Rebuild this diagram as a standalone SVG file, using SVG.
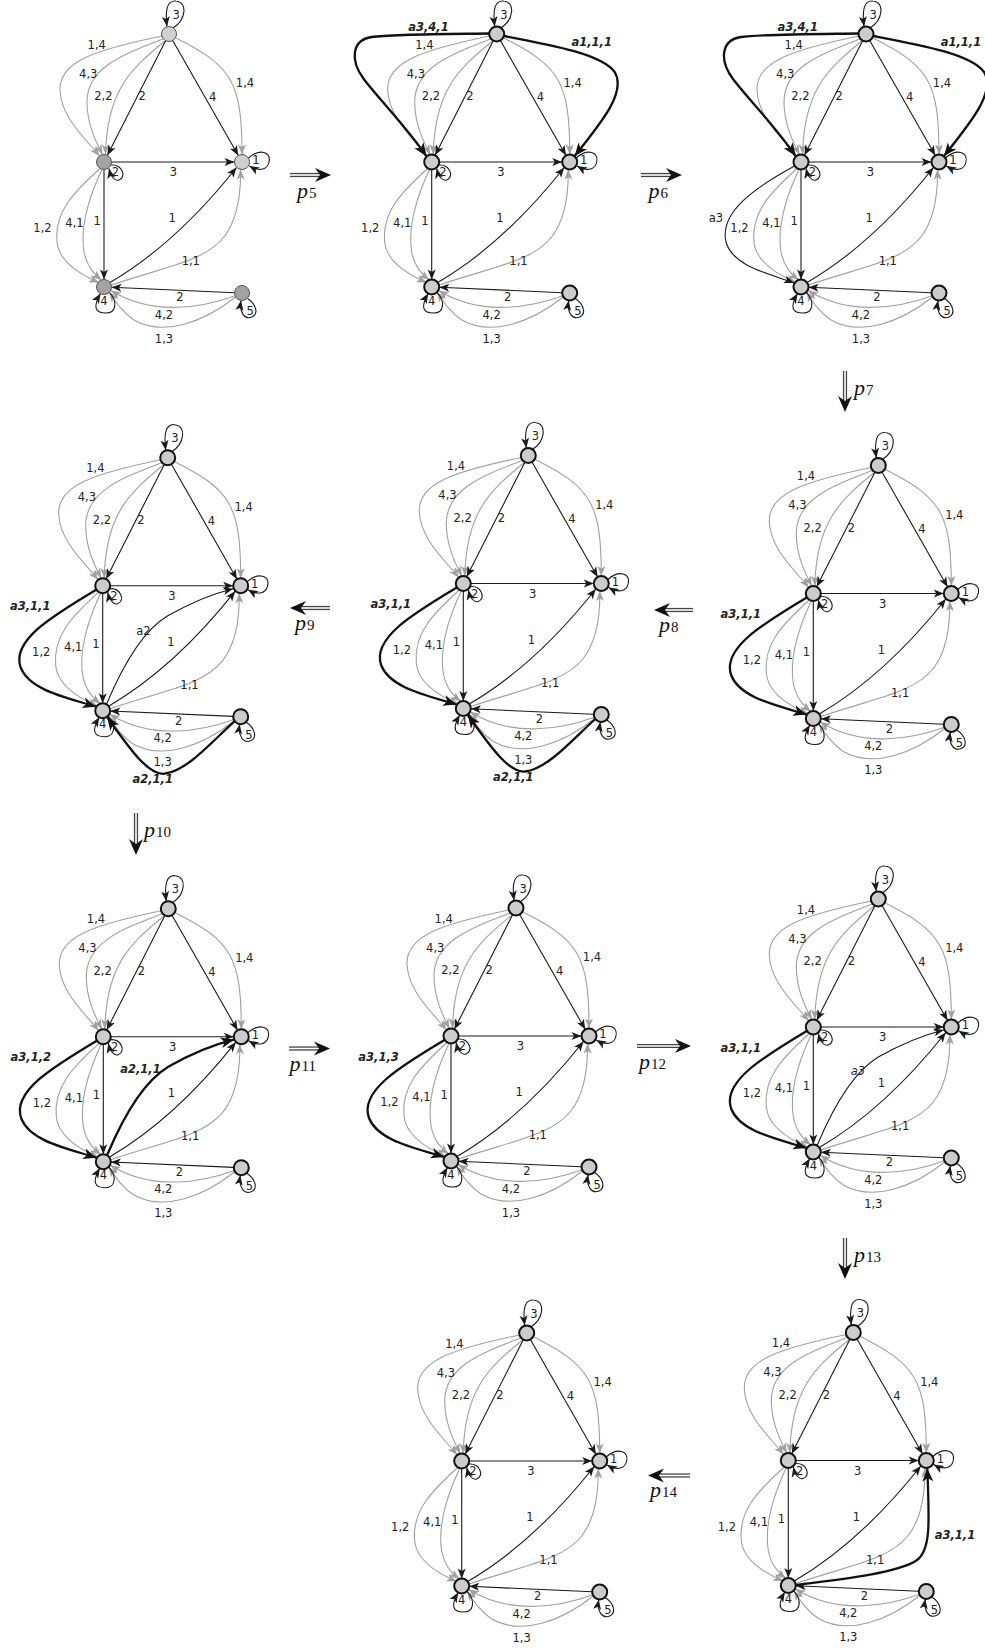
<svg xmlns="http://www.w3.org/2000/svg" width="985" height="1648" viewBox="0 0 985 1648">
<style>
.e{fill:none;stroke:#1a1a1a;stroke-width:1.1;marker-end:url(#ab)}
.g{fill:none;stroke:#a0a0a0;stroke-width:1.1;marker-end:url(#ag)}
.t{fill:none;stroke:#111;stroke-width:2.3;marker-end:url(#at)}
.l{font-family:"DejaVu Sans",sans-serif;font-size:11.5px;fill:#222;text-anchor:middle}
.bl{font-weight:bold;font-style:italic}
.it{font-style:italic}
.n{fill:#cccccc;stroke:#111;stroke-width:2}
.na{fill:#d0d0d0;stroke:#555;stroke-width:1}
.nb{fill:#a3a3a3;stroke:#555;stroke-width:1}
.dl{fill:none;stroke:#444;stroke-width:4.2}
.dli{fill:none;stroke:#fff;stroke-width:1.6}
.ah{fill:#111}
.pl{font-family:"Liberation Serif",serif;font-style:italic;font-size:22px;fill:#111}
.ps{font-style:normal;font-size:15px}
</style>
<defs>
<marker id="ab" viewBox="-11 -5 12 10" refX="0" refY="0" markerWidth="12" markerHeight="10" markerUnits="userSpaceOnUse" orient="auto"><path d="M0,0 L-10,-4 L-7.5,0 L-10,4 Z" fill="#1a1a1a"/></marker>
<marker id="ag" viewBox="-11 -5 12 10" refX="0" refY="0" markerWidth="12" markerHeight="10" markerUnits="userSpaceOnUse" orient="auto"><path d="M0,0 L-10,-4 L-7.5,0 L-10,4 Z" fill="#a0a0a0"/></marker>
<marker id="at" viewBox="-14 -6.5 15 13" refX="0" refY="0" markerWidth="15" markerHeight="13" markerUnits="userSpaceOnUse" orient="auto"><path d="M0,0 L-13,-5.5 L-9.5,0 L-13,5.5 Z" fill="#111"/></marker>
</defs>

<!-- Panel 1 -->
<g id="g1" transform="translate(104,162)">
<g id="g1-edges">
<path class="g" d="M72,-124 C128,-96 138,-80 138,-7.5"/>
<path class="g" d="M58,-126 C-10,-112 -45,-100 -44,-72 C-43,-45 -20,-25 -4.5,-6"/>
<path class="g" d="M59,-123 C20,-108 -17,-95 -17,-60 C-17,-38 -8,-20 -1.5,-7.4"/>
<path class="g" d="M61,-121 C25,-92 3,-70 1.5,-7.5"/>
<path class="g" d="M-4,6.5 C-30,30 -50,50 -47,80 C-45,100 -25,112 -5,120.5"/>
<path class="g" d="M-2,7.3 C-15,35 -24,65 -20,90 C-17,105 -10,112 -2.5,118"/>
<path class="g" d="M7.5,123 C60,105 100,100 120,75 C133,58 137,35 136.5,7.5"/>
<path class="g" d="M130.5,134 C100,145 50,155 7,128.5"/>
<path class="g" d="M131.5,135 C100,160 60,175 30,158 C18,150 12,140 5.5,130"/>
<path class="e" d="M61.6,-121.3 L3.4,-6.7"/>
<path class="e" d="M68.7,-121.5 L134.3,-6.5"/>
<path class="e" d="M7.5,0 L130.5,0"/>
<path class="e" d="M0,7.5 L0,117.5"/>
<path class="e" d="M6,120.5 Q72,82 132.5,5.5"/>
<path class="e" d="M130.5,130.7 L7.5,125.3"/>
<path class="e" d="M69,-134 C82,-142 84,-160 72,-161 C63,-162 61,-152 63,-135.5"/>
<path class="e" d="M144.5,-4 C156,-14 167,-10 165,0 C163,9 154,9 145.3,4"/>
<path class="e" d="M7,3 C18,2 23,15 15,18 C11,19.5 7,15 5,6.5"/>
<path class="e" d="M5.5,130.5 C14,140 12,151 2,151 C-8,151 -12,146 -3.5,131.5"/>
<path class="e" d="M143.5,136.5 C152,142 155,152 148,155 C141,158 135,151 137,138.5"/>
<text class="l" x="38.2" y="-61.7">2</text><text class="l" x="108.7" y="-60.7">4</text><text class="l" x="72.2" y="-143.3">3</text><text class="l" x="69.3" y="14.3">3</text><text class="l" x="-6.8" y="62.7">1</text><text class="l" x="68.2" y="60">1</text><text class="l" x="76" y="139.3">2</text><text class="l" x="152" y="2.3">1</text><text class="l" x="11.3" y="14">2</text><text class="l" x="0" y="142.7">4</text><text class="l" x="146.2" y="153.3">5</text><text class="l" x="141" y="-75">1,4</text><text class="l" x="-7.3" y="-113.3">1,4</text><text class="l" x="-15.8" y="-84.3">4,3</text><text class="l" x="-0.7" y="-61.7">2,2</text><text class="l" x="-61.5" y="70">1,2</text><text class="l" x="-29.5" y="65">4,1</text><text class="l" x="86.8" y="103.3">1,1</text><text class="l" x="60" y="156.7">4,2</text><text class="l" x="60" y="180.7">1,3</text>
</g>
<g id="g1-n3"><circle class="na" cx="65" cy="-128" r="7.5"/></g>
<g id="g1-n2"><circle class="nb" cx="0" cy="0" r="7.5"/></g>
<g id="g1-n1"><circle class="na" cx="138" cy="0" r="7.5"/></g>
<g id="g1-n4"><circle class="nb" cx="0" cy="125" r="7.5"/></g>
<g id="g1-n5"><circle class="nb" cx="138" cy="131" r="7.5"/></g>
</g>

<!-- Panel 2 -->
<g id="g2" transform="translate(431.7,162)">
<g id="g2-edges">
<path class="g" d="M72,-124 C128,-96 138,-80 138,-7.5"/>
<path class="g" d="M58,-126 C-10,-112 -45,-100 -44,-72 C-43,-45 -20,-25 -4.5,-6"/>
<path class="g" d="M59,-123 C20,-108 -17,-95 -17,-60 C-17,-38 -8,-20 -1.5,-7.4"/>
<path class="g" d="M61,-121 C25,-92 3,-70 1.5,-7.5"/>
<path class="g" d="M-4,6.5 C-30,30 -50,50 -47,80 C-45,100 -25,112 -5,120.5"/>
<path class="g" d="M-2,7.3 C-15,35 -24,65 -20,90 C-17,105 -10,112 -2.5,118"/>
<path class="g" d="M7.5,123 C60,105 100,100 120,75 C133,58 137,35 136.5,7.5"/>
<path class="g" d="M130.5,134 C100,145 50,155 7,128.5"/>
<path class="g" d="M131.5,135 C100,160 60,175 30,158 C18,150 12,140 5.5,130"/>
<path class="e" d="M61.6,-121.3 L3.4,-6.7"/>
<path class="e" d="M68.7,-121.5 L134.3,-6.5"/>
<path class="e" d="M7.5,0 L130.5,0"/>
<path class="e" d="M0,7.5 L0,117.5"/>
<path class="e" d="M6,120.5 Q72,82 132.5,5.5"/>
<path class="e" d="M130.5,130.7 L7.5,125.3"/>
<path class="e" d="M69,-134 C82,-142 84,-160 72,-161 C63,-162 61,-152 63,-135.5"/>
<path class="e" d="M144.5,-4 C156,-14 167,-10 165,0 C163,9 154,9 145.3,4"/>
<path class="e" d="M7,3 C18,2 23,15 15,18 C11,19.5 7,15 5,6.5"/>
<path class="e" d="M5.5,130.5 C14,140 12,151 2,151 C-8,151 -12,146 -3.5,131.5"/>
<path class="e" d="M143.5,136.5 C152,142 155,152 148,155 C141,158 135,151 137,138.5"/>
<path class="t" d="M57.5,-128.5 C20,-128 -40,-128 -60,-125 C-80,-122 -82,-102 -68,-83 C-52,-62 -25,-35 -5.5,-6"/>
<path class="t" d="M72.5,-126 C120,-117 170,-108 183,-90 C195,-70 170,-40 143,-6"/>
<text class="l" x="38.2" y="-61.7">2</text><text class="l" x="108.7" y="-60.7">4</text><text class="l" x="72.2" y="-143.3">3</text><text class="l" x="69.3" y="14.3">3</text><text class="l" x="-6.8" y="62.7">1</text><text class="l" x="68.2" y="60">1</text><text class="l" x="76" y="139.3">2</text><text class="l" x="152" y="2.3">1</text><text class="l" x="11.3" y="14">2</text><text class="l" x="0" y="142.7">4</text><text class="l" x="146.2" y="153.3">5</text><text class="l" x="141" y="-75">1,4</text><text class="l" x="-7.3" y="-113.3">1,4</text><text class="l" x="-15.8" y="-84.3">4,3</text><text class="l" x="-0.7" y="-61.7">2,2</text><text class="l" x="-61.5" y="70">1,2</text><text class="l" x="-29.5" y="65">4,1</text><text class="l" x="86.8" y="103.3">1,1</text><text class="l" x="60" y="156.7">4,2</text><text class="l" x="60" y="180.7">1,3</text>
<text class="l bl" x="-3.3" y="-131">a3,4,1</text><text class="l bl" x="160" y="-115.7">a1,1,1</text>
</g>
<g id="g2-n3"><circle class="n" cx="65" cy="-128" r="7.5"/></g>
<g id="g2-n2"><circle class="n" cx="0" cy="0" r="7.5"/></g>
<g id="g2-n1"><circle class="n" cx="138" cy="0" r="7.5"/></g>
<g id="g2-n4"><circle class="n" cx="0" cy="125" r="7.5"/></g>
<g id="g2-n5"><circle class="n" cx="138" cy="131" r="7.5"/></g>
</g>

<!-- Panel 3 -->
<g id="g3" transform="translate(801,162)">
<g id="g3-edges">
<path class="g" d="M72,-124 C128,-96 138,-80 138,-7.5"/>
<path class="g" d="M58,-126 C-10,-112 -45,-100 -44,-72 C-43,-45 -20,-25 -4.5,-6"/>
<path class="g" d="M59,-123 C20,-108 -17,-95 -17,-60 C-17,-38 -8,-20 -1.5,-7.4"/>
<path class="g" d="M61,-121 C25,-92 3,-70 1.5,-7.5"/>
<path class="g" d="M-4,6.5 C-30,30 -50,50 -47,80 C-45,100 -25,112 -5,120.5"/>
<path class="g" d="M-2,7.3 C-15,35 -24,65 -20,90 C-17,105 -10,112 -2.5,118"/>
<path class="g" d="M7.5,123 C60,105 100,100 120,75 C133,58 137,35 136.5,7.5"/>
<path class="g" d="M130.5,134 C100,145 50,155 7,128.5"/>
<path class="g" d="M131.5,135 C100,160 60,175 30,158 C18,150 12,140 5.5,130"/>
<path class="e" d="M61.6,-121.3 L3.4,-6.7"/>
<path class="e" d="M68.7,-121.5 L134.3,-6.5"/>
<path class="e" d="M7.5,0 L130.5,0"/>
<path class="e" d="M0,7.5 L0,117.5"/>
<path class="e" d="M6,120.5 Q72,82 132.5,5.5"/>
<path class="e" d="M130.5,130.7 L7.5,125.3"/>
<path class="e" d="M69,-134 C82,-142 84,-160 72,-161 C63,-162 61,-152 63,-135.5"/>
<path class="e" d="M144.5,-4 C156,-14 167,-10 165,0 C163,9 154,9 145.3,4"/>
<path class="e" d="M7,3 C18,2 23,15 15,18 C11,19.5 7,15 5,6.5"/>
<path class="e" d="M5.5,130.5 C14,140 12,151 2,151 C-8,151 -12,146 -3.5,131.5"/>
<path class="e" d="M143.5,136.5 C152,142 155,152 148,155 C141,158 135,151 137,138.5"/>
<path class="e" d="M-6.5,4 C-45,25 -82,50 -75,80 C-68,105 -30,112 -7,121"/>
<path class="t" d="M57.5,-128.5 C20,-128 -40,-128 -60,-125 C-80,-122 -82,-102 -68,-83 C-52,-62 -25,-35 -5.5,-6"/>
<path class="t" d="M72.5,-126 C120,-117 170,-108 183,-90 C195,-70 170,-40 143,-6"/>
<text class="l" x="38.2" y="-61.7">2</text><text class="l" x="108.7" y="-60.7">4</text><text class="l" x="72.2" y="-143.3">3</text><text class="l" x="69.3" y="14.3">3</text><text class="l" x="-6.8" y="62.7">1</text><text class="l" x="68.2" y="60">1</text><text class="l" x="76" y="139.3">2</text><text class="l" x="152" y="2.3">1</text><text class="l" x="11.3" y="14">2</text><text class="l" x="0" y="142.7">4</text><text class="l" x="146.2" y="153.3">5</text><text class="l" x="141" y="-75">1,4</text><text class="l" x="-7.3" y="-113.3">1,4</text><text class="l" x="-15.8" y="-84.3">4,3</text><text class="l" x="-0.7" y="-61.7">2,2</text><text class="l" x="-61.5" y="70">1,2</text><text class="l" x="-29.5" y="65">4,1</text><text class="l" x="86.8" y="103.3">1,1</text><text class="l" x="60" y="156.7">4,2</text><text class="l" x="60" y="180.7">1,3</text>
<text class="l bl" x="-3.3" y="-131">a3,4,1</text><text class="l bl" x="160" y="-115.7">a1,1,1</text><text class="l" x="-85.2" y="60">a3</text>
</g>
<g id="g3-n3"><circle class="n" cx="65" cy="-128" r="7.5"/></g>
<g id="g3-n2"><circle class="n" cx="0" cy="0" r="7.5"/></g>
<g id="g3-n1"><circle class="n" cx="138" cy="0" r="7.5"/></g>
<g id="g3-n4"><circle class="n" cx="0" cy="125" r="7.5"/></g>
<g id="g3-n5"><circle class="n" cx="138" cy="131" r="7.5"/></g>
</g>

<!-- Panel 4 (after p7) -->
<g id="g4" transform="translate(813.3,593.5)">
<g id="g4-edges">
<path class="g" d="M72,-124 C128,-96 138,-80 138,-7.5"/>
<path class="g" d="M58,-126 C-10,-112 -45,-100 -44,-72 C-43,-45 -20,-25 -4.5,-6"/>
<path class="g" d="M59,-123 C20,-108 -17,-95 -17,-60 C-17,-38 -8,-20 -1.5,-7.4"/>
<path class="g" d="M61,-121 C25,-92 3,-70 1.5,-7.5"/>
<path class="g" d="M-4,6.5 C-30,30 -50,50 -47,80 C-45,100 -25,112 -5,120.5"/>
<path class="g" d="M-2,7.3 C-15,35 -24,65 -20,90 C-17,105 -10,112 -2.5,118"/>
<path class="g" d="M7.5,123 C60,105 100,100 120,75 C133,58 137,35 136.5,7.5"/>
<path class="g" d="M130.5,134 C100,145 50,155 7,128.5"/>
<path class="g" d="M131.5,135 C100,160 60,175 30,158 C18,150 12,140 5.5,130"/>
<path class="e" d="M61.6,-121.3 L3.4,-6.7"/>
<path class="e" d="M68.7,-121.5 L134.3,-6.5"/>
<path class="e" d="M7.5,0 L130.5,0"/>
<path class="e" d="M0,7.5 L0,117.5"/>
<path class="e" d="M6,120.5 Q72,82 132.5,5.5"/>
<path class="e" d="M130.5,130.7 L7.5,125.3"/>
<path class="e" d="M69,-134 C82,-142 84,-160 72,-161 C63,-162 61,-152 63,-135.5"/>
<path class="e" d="M144.5,-4 C156,-14 167,-10 165,0 C163,9 154,9 145.3,4"/>
<path class="e" d="M7,3 C18,2 23,15 15,18 C11,19.5 7,15 5,6.5"/>
<path class="e" d="M5.5,130.5 C14,140 12,151 2,151 C-8,151 -12,146 -3.5,131.5"/>
<path class="e" d="M143.5,136.5 C152,142 155,152 148,155 C141,158 135,151 137,138.5"/>
<path class="t" d="M-6.5,4 C-50,30 -92,55 -82,82 C-73,105 -35,112 -7,121"/>
<text class="l" x="38.2" y="-61.7">2</text><text class="l" x="108.7" y="-60.7">4</text><text class="l" x="72.2" y="-143.3">3</text><text class="l" x="69.3" y="14.3">3</text><text class="l" x="-6.8" y="62.7">1</text><text class="l" x="68.2" y="60">1</text><text class="l" x="76" y="139.3">2</text><text class="l" x="152" y="2.3">1</text><text class="l" x="11.3" y="14">2</text><text class="l" x="0" y="142.7">4</text><text class="l" x="146.2" y="153.3">5</text><text class="l" x="141" y="-75">1,4</text><text class="l" x="-7.3" y="-113.3">1,4</text><text class="l" x="-15.8" y="-84.3">4,3</text><text class="l" x="-0.7" y="-61.7">2,2</text><text class="l" x="-61.5" y="70">1,2</text><text class="l" x="-29.5" y="65">4,1</text><text class="l" x="86.8" y="103.3">1,1</text><text class="l" x="60" y="156.7">4,2</text><text class="l" x="60" y="180.7">1,3</text>
<text class="l bl" x="-72.5" y="24.5">a3,1,1</text>
</g>
<g id="g4-n3"><circle class="n" cx="65" cy="-128" r="7.5"/></g>
<g id="g4-n2"><circle class="n" cx="0" cy="0" r="7.5"/></g>
<g id="g4-n1"><circle class="n" cx="138" cy="0" r="7.5"/></g>
<g id="g4-n4"><circle class="n" cx="0" cy="125" r="7.5"/></g>
<g id="g4-n5"><circle class="n" cx="138" cy="131" r="7.5"/></g>
</g>

<!-- Panel 5 (after p8) -->
<g id="g5" transform="translate(463.3,583.5)">
<g id="g5-edges">
<path class="g" d="M72,-124 C128,-96 138,-80 138,-7.5"/>
<path class="g" d="M58,-126 C-10,-112 -45,-100 -44,-72 C-43,-45 -20,-25 -4.5,-6"/>
<path class="g" d="M59,-123 C20,-108 -17,-95 -17,-60 C-17,-38 -8,-20 -1.5,-7.4"/>
<path class="g" d="M61,-121 C25,-92 3,-70 1.5,-7.5"/>
<path class="g" d="M-4,6.5 C-30,30 -50,50 -47,80 C-45,100 -25,112 -5,120.5"/>
<path class="g" d="M-2,7.3 C-15,35 -24,65 -20,90 C-17,105 -10,112 -2.5,118"/>
<path class="g" d="M7.5,123 C60,105 100,100 120,75 C133,58 137,35 136.5,7.5"/>
<path class="g" d="M130.5,134 C100,145 50,155 7,128.5"/>
<path class="g" d="M131.5,135 C100,160 60,175 30,158 C18,150 12,140 5.5,130"/>
<path class="e" d="M61.6,-121.3 L3.4,-6.7"/>
<path class="e" d="M68.7,-121.5 L134.3,-6.5"/>
<path class="e" d="M7.5,0 L130.5,0"/>
<path class="e" d="M0,7.5 L0,117.5"/>
<path class="e" d="M6,120.5 Q72,82 132.5,5.5"/>
<path class="e" d="M130.5,130.7 L7.5,125.3"/>
<path class="e" d="M69,-134 C82,-142 84,-160 72,-161 C63,-162 61,-152 63,-135.5"/>
<path class="e" d="M144.5,-4 C156,-14 167,-10 165,0 C163,9 154,9 145.3,4"/>
<path class="e" d="M7,3 C18,2 23,15 15,18 C11,19.5 7,15 5,6.5"/>
<path class="e" d="M5.5,130.5 C14,140 12,151 2,151 C-8,151 -12,146 -3.5,131.5"/>
<path class="e" d="M143.5,136.5 C152,142 155,152 148,155 C141,158 135,151 137,138.5"/>
<path class="t" d="M-6.5,4 C-50,30 -92,55 -82,82 C-73,105 -35,112 -7,121"/>
<path class="t" d="M131.5,136 C110,155 85,185 62,188 C45,190 25,160 4.5,131.5"/>
<text class="l" x="38.2" y="-61.7">2</text><text class="l" x="108.7" y="-60.7">4</text><text class="l" x="72.2" y="-143.3">3</text><text class="l" x="69.3" y="14.3">3</text><text class="l" x="-6.8" y="62.7">1</text><text class="l" x="68.2" y="60">1</text><text class="l" x="76" y="139.3">2</text><text class="l" x="152" y="2.3">1</text><text class="l" x="11.3" y="14">2</text><text class="l" x="0" y="142.7">4</text><text class="l" x="146.2" y="153.3">5</text><text class="l" x="141" y="-75">1,4</text><text class="l" x="-7.3" y="-113.3">1,4</text><text class="l" x="-15.8" y="-84.3">4,3</text><text class="l" x="-0.7" y="-61.7">2,2</text><text class="l" x="-61.5" y="70">1,2</text><text class="l" x="-29.5" y="65">4,1</text><text class="l" x="86.8" y="103.3">1,1</text><text class="l" x="60" y="156.7">4,2</text><text class="l" x="60" y="180.7">1,3</text>
<text class="l bl" x="-72.5" y="24.5">a3,1,1</text><text class="l bl" x="50" y="197">a2,1,1</text>
</g>
<g id="g5-n3"><circle class="n" cx="65" cy="-128" r="7.5"/></g>
<g id="g5-n2"><circle class="n" cx="0" cy="0" r="7.5"/></g>
<g id="g5-n1"><circle class="n" cx="138" cy="0" r="7.5"/></g>
<g id="g5-n4"><circle class="n" cx="0" cy="125" r="7.5"/></g>
<g id="g5-n5"><circle class="n" cx="138" cy="131" r="7.5"/></g>
</g>

<!-- Panel 6 (after p9) -->
<g id="g6" transform="translate(102.7,585.7)">
<g id="g6-edges">
<path class="g" d="M72,-124 C128,-96 138,-80 138,-7.5"/>
<path class="g" d="M58,-126 C-10,-112 -45,-100 -44,-72 C-43,-45 -20,-25 -4.5,-6"/>
<path class="g" d="M59,-123 C20,-108 -17,-95 -17,-60 C-17,-38 -8,-20 -1.5,-7.4"/>
<path class="g" d="M61,-121 C25,-92 3,-70 1.5,-7.5"/>
<path class="g" d="M-4,6.5 C-30,30 -50,50 -47,80 C-45,100 -25,112 -5,120.5"/>
<path class="g" d="M-2,7.3 C-15,35 -24,65 -20,90 C-17,105 -10,112 -2.5,118"/>
<path class="g" d="M7.5,123 C60,105 100,100 120,75 C133,58 137,35 136.5,7.5"/>
<path class="g" d="M130.5,134 C100,145 50,155 7,128.5"/>
<path class="g" d="M131.5,135 C100,160 60,175 30,158 C18,150 12,140 5.5,130"/>
<path class="e" d="M61.6,-121.3 L3.4,-6.7"/>
<path class="e" d="M68.7,-121.5 L134.3,-6.5"/>
<path class="e" d="M7.5,0 L130.5,0"/>
<path class="e" d="M0,7.5 L0,117.5"/>
<path class="e" d="M6,120.5 Q72,82 132.5,5.5"/>
<path class="e" d="M130.5,130.7 L7.5,125.3"/>
<path class="e" d="M69,-134 C82,-142 84,-160 72,-161 C63,-162 61,-152 63,-135.5"/>
<path class="e" d="M144.5,-4 C156,-14 167,-10 165,0 C163,9 154,9 145.3,4"/>
<path class="e" d="M7,3 C18,2 23,15 15,18 C11,19.5 7,15 5,6.5"/>
<path class="e" d="M5.5,130.5 C14,140 12,151 2,151 C-8,151 -12,146 -3.5,131.5"/>
<path class="e" d="M143.5,136.5 C152,142 155,152 148,155 C141,158 135,151 137,138.5"/>
<path class="e" d="M4,118 C20,80 40,45 65,30 C90,16 110,8 130.5,3"/>
<path class="t" d="M-6.5,4 C-50,30 -92,55 -82,82 C-73,105 -35,112 -7,121"/>
<path class="t" d="M131.5,136 C110,155 85,185 62,188 C45,190 25,160 4.5,131.5"/>
<text class="l" x="38.2" y="-61.7">2</text><text class="l" x="108.7" y="-60.7">4</text><text class="l" x="72.2" y="-143.3">3</text><text class="l" x="69.3" y="14.3">3</text><text class="l" x="-6.8" y="62.7">1</text><text class="l" x="68.2" y="60">1</text><text class="l" x="76" y="139.3">2</text><text class="l" x="152" y="2.3">1</text><text class="l" x="11.3" y="14">2</text><text class="l" x="0" y="142.7">4</text><text class="l" x="146.2" y="153.3">5</text><text class="l" x="141" y="-75">1,4</text><text class="l" x="-7.3" y="-113.3">1,4</text><text class="l" x="-15.8" y="-84.3">4,3</text><text class="l" x="-0.7" y="-61.7">2,2</text><text class="l" x="-61.5" y="70">1,2</text><text class="l" x="-29.5" y="65">4,1</text><text class="l" x="86.8" y="103.3">1,1</text><text class="l" x="60" y="156.7">4,2</text><text class="l" x="60" y="180.7">1,3</text>
<text class="l bl" x="-72.5" y="24.5">a3,1,1</text><text class="l bl" x="50" y="197">a2,1,1</text><text class="l" x="40.7" y="49.3">a2</text>
</g>
<g id="g6-n3"><circle class="n" cx="65" cy="-128" r="7.5"/></g>
<g id="g6-n2"><circle class="n" cx="0" cy="0" r="7.5"/></g>
<g id="g6-n1"><circle class="n" cx="138" cy="0" r="7.5"/></g>
<g id="g6-n4"><circle class="n" cx="0" cy="125" r="7.5"/></g>
<g id="g6-n5"><circle class="n" cx="138" cy="131" r="7.5"/></g>
</g>

<!-- Panel 7 (after p10) -->
<g id="g7" transform="translate(103.3,1036.7)">
<g id="g7-edges">
<path class="g" d="M72,-124 C128,-96 138,-80 138,-7.5"/>
<path class="g" d="M58,-126 C-10,-112 -45,-100 -44,-72 C-43,-45 -20,-25 -4.5,-6"/>
<path class="g" d="M59,-123 C20,-108 -17,-95 -17,-60 C-17,-38 -8,-20 -1.5,-7.4"/>
<path class="g" d="M61,-121 C25,-92 3,-70 1.5,-7.5"/>
<path class="g" d="M-4,6.5 C-30,30 -50,50 -47,80 C-45,100 -25,112 -5,120.5"/>
<path class="g" d="M-2,7.3 C-15,35 -24,65 -20,90 C-17,105 -10,112 -2.5,118"/>
<path class="g" d="M7.5,123 C60,105 100,100 120,75 C133,58 137,35 136.5,7.5"/>
<path class="g" d="M130.5,134 C100,145 50,155 7,128.5"/>
<path class="g" d="M131.5,135 C100,160 60,175 30,158 C18,150 12,140 5.5,130"/>
<path class="e" d="M61.6,-121.3 L3.4,-6.7"/>
<path class="e" d="M68.7,-121.5 L134.3,-6.5"/>
<path class="e" d="M7.5,0 L130.5,0"/>
<path class="e" d="M0,7.5 L0,117.5"/>
<path class="e" d="M6,120.5 Q72,82 132.5,5.5"/>
<path class="e" d="M130.5,130.7 L7.5,125.3"/>
<path class="e" d="M69,-134 C82,-142 84,-160 72,-161 C63,-162 61,-152 63,-135.5"/>
<path class="e" d="M144.5,-4 C156,-14 167,-10 165,0 C163,9 154,9 145.3,4"/>
<path class="e" d="M7,3 C18,2 23,15 15,18 C11,19.5 7,15 5,6.5"/>
<path class="e" d="M5.5,130.5 C14,140 12,151 2,151 C-8,151 -12,146 -3.5,131.5"/>
<path class="e" d="M143.5,136.5 C152,142 155,152 148,155 C141,158 135,151 137,138.5"/>
<path class="t" d="M-6.5,4 C-50,30 -92,55 -82,82 C-73,105 -35,112 -7,121"/>
<path class="t" d="M4,118 C20,80 40,45 65,30 C90,16 110,8 130.5,3"/>
<text class="l" x="38.2" y="-61.7">2</text><text class="l" x="108.7" y="-60.7">4</text><text class="l" x="72.2" y="-143.3">3</text><text class="l" x="69.3" y="14.3">3</text><text class="l" x="-6.8" y="62.7">1</text><text class="l" x="68.2" y="60">1</text><text class="l" x="76" y="139.3">2</text><text class="l" x="152" y="2.3">1</text><text class="l" x="11.3" y="14">2</text><text class="l" x="0" y="142.7">4</text><text class="l" x="146.2" y="153.3">5</text><text class="l" x="141" y="-75">1,4</text><text class="l" x="-7.3" y="-113.3">1,4</text><text class="l" x="-15.8" y="-84.3">4,3</text><text class="l" x="-0.7" y="-61.7">2,2</text><text class="l" x="-61.5" y="70">1,2</text><text class="l" x="-29.5" y="65">4,1</text><text class="l" x="86.8" y="103.3">1,1</text><text class="l" x="60" y="156.7">4,2</text><text class="l" x="60" y="180.7">1,3</text>
<text class="l bl" x="-72.5" y="24.5">a3,1,2</text><text class="l bl" x="37.2" y="36.7">a2,1,1</text>
</g>
<g id="g7-n3"><circle class="n" cx="65" cy="-128" r="7.5"/></g>
<g id="g7-n2"><circle class="n" cx="0" cy="0" r="7.5"/></g>
<g id="g7-n1"><circle class="n" cx="138" cy="0" r="7.5"/></g>
<g id="g7-n4"><circle class="n" cx="0" cy="125" r="7.5"/></g>
<g id="g7-n5"><circle class="n" cx="138" cy="131" r="7.5"/></g>
</g>

<!-- Panel 8 (after p11) -->
<g id="g8" transform="translate(451,1036)">
<g id="g8-edges">
<path class="g" d="M72,-124 C128,-96 138,-80 138,-7.5"/>
<path class="g" d="M58,-126 C-10,-112 -45,-100 -44,-72 C-43,-45 -20,-25 -4.5,-6"/>
<path class="g" d="M59,-123 C20,-108 -17,-95 -17,-60 C-17,-38 -8,-20 -1.5,-7.4"/>
<path class="g" d="M61,-121 C25,-92 3,-70 1.5,-7.5"/>
<path class="g" d="M-4,6.5 C-30,30 -50,50 -47,80 C-45,100 -25,112 -5,120.5"/>
<path class="g" d="M-2,7.3 C-15,35 -24,65 -20,90 C-17,105 -10,112 -2.5,118"/>
<path class="g" d="M7.5,123 C60,105 100,100 120,75 C133,58 137,35 136.5,7.5"/>
<path class="g" d="M130.5,134 C100,145 50,155 7,128.5"/>
<path class="g" d="M131.5,135 C100,160 60,175 30,158 C18,150 12,140 5.5,130"/>
<path class="e" d="M61.6,-121.3 L3.4,-6.7"/>
<path class="e" d="M68.7,-121.5 L134.3,-6.5"/>
<path class="e" d="M7.5,0 L130.5,0"/>
<path class="e" d="M0,7.5 L0,117.5"/>
<path class="e" d="M6,120.5 Q72,82 132.5,5.5"/>
<path class="e" d="M130.5,130.7 L7.5,125.3"/>
<path class="e" d="M69,-134 C82,-142 84,-160 72,-161 C63,-162 61,-152 63,-135.5"/>
<path class="e" d="M144.5,-4 C156,-14 167,-10 165,0 C163,9 154,9 145.3,4"/>
<path class="e" d="M7,3 C18,2 23,15 15,18 C11,19.5 7,15 5,6.5"/>
<path class="e" d="M5.5,130.5 C14,140 12,151 2,151 C-8,151 -12,146 -3.5,131.5"/>
<path class="e" d="M143.5,136.5 C152,142 155,152 148,155 C141,158 135,151 137,138.5"/>
<path class="t" d="M-6.5,4 C-50,30 -92,55 -82,82 C-73,105 -35,112 -7,121"/>
<text class="l" x="38.2" y="-61.7">2</text><text class="l" x="108.7" y="-60.7">4</text><text class="l" x="72.2" y="-143.3">3</text><text class="l" x="69.3" y="14.3">3</text><text class="l" x="-6.8" y="62.7">1</text><text class="l" x="68.2" y="60">1</text><text class="l" x="76" y="139.3">2</text><text class="l" x="152" y="2.3">1</text><text class="l" x="11.3" y="14">2</text><text class="l" x="0" y="142.7">4</text><text class="l" x="146.2" y="153.3">5</text><text class="l" x="141" y="-75">1,4</text><text class="l" x="-7.3" y="-113.3">1,4</text><text class="l" x="-15.8" y="-84.3">4,3</text><text class="l" x="-0.7" y="-61.7">2,2</text><text class="l" x="-61.5" y="70">1,2</text><text class="l" x="-29.5" y="65">4,1</text><text class="l" x="86.8" y="103.3">1,1</text><text class="l" x="60" y="156.7">4,2</text><text class="l" x="60" y="180.7">1,3</text>
<text class="l bl" x="-72.5" y="24.5">a3,1,3</text>
</g>
<g id="g8-n3"><circle class="n" cx="65" cy="-128" r="7.5"/></g>
<g id="g8-n2"><circle class="n" cx="0" cy="0" r="7.5"/></g>
<g id="g8-n1"><circle class="n" cx="138" cy="0" r="7.5"/></g>
<g id="g8-n4"><circle class="n" cx="0" cy="125" r="7.5"/></g>
<g id="g8-n5"><circle class="n" cx="138" cy="131" r="7.5"/></g>
</g>

<!-- Panel 9 (after p12) -->
<g id="g9" transform="translate(813.3,1027)">
<g id="g9-edges">
<path class="g" d="M72,-124 C128,-96 138,-80 138,-7.5"/>
<path class="g" d="M58,-126 C-10,-112 -45,-100 -44,-72 C-43,-45 -20,-25 -4.5,-6"/>
<path class="g" d="M59,-123 C20,-108 -17,-95 -17,-60 C-17,-38 -8,-20 -1.5,-7.4"/>
<path class="g" d="M61,-121 C25,-92 3,-70 1.5,-7.5"/>
<path class="g" d="M-4,6.5 C-30,30 -50,50 -47,80 C-45,100 -25,112 -5,120.5"/>
<path class="g" d="M-2,7.3 C-15,35 -24,65 -20,90 C-17,105 -10,112 -2.5,118"/>
<path class="g" d="M7.5,123 C60,105 100,100 120,75 C133,58 137,35 136.5,7.5"/>
<path class="g" d="M130.5,134 C100,145 50,155 7,128.5"/>
<path class="g" d="M131.5,135 C100,160 60,175 30,158 C18,150 12,140 5.5,130"/>
<path class="e" d="M61.6,-121.3 L3.4,-6.7"/>
<path class="e" d="M68.7,-121.5 L134.3,-6.5"/>
<path class="e" d="M7.5,0 L130.5,0"/>
<path class="e" d="M0,7.5 L0,117.5"/>
<path class="e" d="M6,120.5 Q72,82 132.5,5.5"/>
<path class="e" d="M130.5,130.7 L7.5,125.3"/>
<path class="e" d="M69,-134 C82,-142 84,-160 72,-161 C63,-162 61,-152 63,-135.5"/>
<path class="e" d="M144.5,-4 C156,-14 167,-10 165,0 C163,9 154,9 145.3,4"/>
<path class="e" d="M7,3 C18,2 23,15 15,18 C11,19.5 7,15 5,6.5"/>
<path class="e" d="M5.5,130.5 C14,140 12,151 2,151 C-8,151 -12,146 -3.5,131.5"/>
<path class="e" d="M143.5,136.5 C152,142 155,152 148,155 C141,158 135,151 137,138.5"/>
<path class="e" d="M4,118 C20,80 40,45 65,30 C90,16 110,8 130.5,3"/>
<path class="t" d="M-6.5,4 C-50,30 -92,55 -82,82 C-73,105 -35,112 -7,121"/>
<text class="l" x="38.2" y="-61.7">2</text><text class="l" x="108.7" y="-60.7">4</text><text class="l" x="72.2" y="-143.3">3</text><text class="l" x="69.3" y="14.3">3</text><text class="l" x="-6.8" y="62.7">1</text><text class="l" x="68.2" y="60">1</text><text class="l" x="76" y="139.3">2</text><text class="l" x="152" y="2.3">1</text><text class="l" x="11.3" y="14">2</text><text class="l" x="0" y="142.7">4</text><text class="l" x="146.2" y="153.3">5</text><text class="l" x="141" y="-75">1,4</text><text class="l" x="-7.3" y="-113.3">1,4</text><text class="l" x="-15.8" y="-84.3">4,3</text><text class="l" x="-0.7" y="-61.7">2,2</text><text class="l" x="-61.5" y="70">1,2</text><text class="l" x="-29.5" y="65">4,1</text><text class="l" x="86.8" y="103.3">1,1</text><text class="l" x="60" y="156.7">4,2</text><text class="l" x="60" y="180.7">1,3</text>
<text class="l bl" x="-72.5" y="24.5">a3,1,1</text><text class="l it" x="44.7" y="48.3">a3</text>
</g>
<g id="g9-n3"><circle class="n" cx="65" cy="-128" r="7.5"/></g>
<g id="g9-n2"><circle class="n" cx="0" cy="0" r="7.5"/></g>
<g id="g9-n1"><circle class="n" cx="138" cy="0" r="7.5"/></g>
<g id="g9-n4"><circle class="n" cx="0" cy="125" r="7.5"/></g>
<g id="g9-n5"><circle class="n" cx="138" cy="131" r="7.5"/></g>
</g>

<!-- Panel 10 (after p13) -->
<g id="g10" transform="translate(788.3,1460.5)">
<g id="g10-edges">
<path class="g" d="M72,-124 C128,-96 138,-80 138,-7.5"/>
<path class="g" d="M58,-126 C-10,-112 -45,-100 -44,-72 C-43,-45 -20,-25 -4.5,-6"/>
<path class="g" d="M59,-123 C20,-108 -17,-95 -17,-60 C-17,-38 -8,-20 -1.5,-7.4"/>
<path class="g" d="M61,-121 C25,-92 3,-70 1.5,-7.5"/>
<path class="g" d="M-4,6.5 C-30,30 -50,50 -47,80 C-45,100 -25,112 -5,120.5"/>
<path class="g" d="M-2,7.3 C-15,35 -24,65 -20,90 C-17,105 -10,112 -2.5,118"/>
<path class="g" d="M7.5,123 C60,105 100,100 120,75 C133,58 137,35 136.5,7.5"/>
<path class="g" d="M130.5,134 C100,145 50,155 7,128.5"/>
<path class="g" d="M131.5,135 C100,160 60,175 30,158 C18,150 12,140 5.5,130"/>
<path class="e" d="M61.6,-121.3 L3.4,-6.7"/>
<path class="e" d="M68.7,-121.5 L134.3,-6.5"/>
<path class="e" d="M7.5,0 L130.5,0"/>
<path class="e" d="M0,7.5 L0,117.5"/>
<path class="e" d="M6,120.5 Q72,82 132.5,5.5"/>
<path class="e" d="M130.5,130.7 L7.5,125.3"/>
<path class="e" d="M69,-134 C82,-142 84,-160 72,-161 C63,-162 61,-152 63,-135.5"/>
<path class="e" d="M144.5,-4 C156,-14 167,-10 165,0 C163,9 154,9 145.3,4"/>
<path class="e" d="M7,3 C18,2 23,15 15,18 C11,19.5 7,15 5,6.5"/>
<path class="e" d="M5.5,130.5 C14,140 12,151 2,151 C-8,151 -12,146 -3.5,131.5"/>
<path class="e" d="M143.5,136.5 C152,142 155,152 148,155 C141,158 135,151 137,138.5"/>
<path class="t" d="M7.5,124.5 C60,118 110,112 128,100 C143,90 141,60 139,8"/>
<text class="l" x="38.2" y="-61.7">2</text><text class="l" x="108.7" y="-60.7">4</text><text class="l" x="72.2" y="-143.3">3</text><text class="l" x="69.3" y="14.3">3</text><text class="l" x="-6.8" y="62.7">1</text><text class="l" x="68.2" y="60">1</text><text class="l" x="76" y="139.3">2</text><text class="l" x="152" y="2.3">1</text><text class="l" x="11.3" y="14">2</text><text class="l" x="0" y="142.7">4</text><text class="l" x="146.2" y="153.3">5</text><text class="l" x="141" y="-75">1,4</text><text class="l" x="-7.3" y="-113.3">1,4</text><text class="l" x="-15.8" y="-84.3">4,3</text><text class="l" x="-0.7" y="-61.7">2,2</text><text class="l" x="-61.5" y="70">1,2</text><text class="l" x="-29.5" y="65">4,1</text><text class="l" x="86.8" y="103.3">1,1</text><text class="l" x="60" y="156.7">4,2</text><text class="l" x="60" y="180.7">1,3</text>
<text class="l bl" x="166.7" y="78.3">a3,1,1</text>
</g>
<g id="g10-n3"><circle class="n" cx="65" cy="-128" r="7.5"/></g>
<g id="g10-n2"><circle class="n" cx="0" cy="0" r="7.5"/></g>
<g id="g10-n1"><circle class="n" cx="138" cy="0" r="7.5"/></g>
<g id="g10-n4"><circle class="n" cx="0" cy="125" r="7.5"/></g>
<g id="g10-n5"><circle class="n" cx="138" cy="131" r="7.5"/></g>
</g>

<!-- Panel 11 (after p14) -->
<g id="g11" transform="translate(461.7,1461)">
<g id="g11-edges">
<path class="g" d="M72,-124 C128,-96 138,-80 138,-7.5"/>
<path class="g" d="M58,-126 C-10,-112 -45,-100 -44,-72 C-43,-45 -20,-25 -4.5,-6"/>
<path class="g" d="M59,-123 C20,-108 -17,-95 -17,-60 C-17,-38 -8,-20 -1.5,-7.4"/>
<path class="g" d="M61,-121 C25,-92 3,-70 1.5,-7.5"/>
<path class="g" d="M-4,6.5 C-30,30 -50,50 -47,80 C-45,100 -25,112 -5,120.5"/>
<path class="g" d="M-2,7.3 C-15,35 -24,65 -20,90 C-17,105 -10,112 -2.5,118"/>
<path class="g" d="M7.5,123 C60,105 100,100 120,75 C133,58 137,35 136.5,7.5"/>
<path class="g" d="M130.5,134 C100,145 50,155 7,128.5"/>
<path class="g" d="M131.5,135 C100,160 60,175 30,158 C18,150 12,140 5.5,130"/>
<path class="e" d="M61.6,-121.3 L3.4,-6.7"/>
<path class="e" d="M68.7,-121.5 L134.3,-6.5"/>
<path class="e" d="M7.5,0 L130.5,0"/>
<path class="e" d="M0,7.5 L0,117.5"/>
<path class="e" d="M6,120.5 Q72,82 132.5,5.5"/>
<path class="e" d="M130.5,130.7 L7.5,125.3"/>
<path class="e" d="M69,-134 C82,-142 84,-160 72,-161 C63,-162 61,-152 63,-135.5"/>
<path class="e" d="M144.5,-4 C156,-14 167,-10 165,0 C163,9 154,9 145.3,4"/>
<path class="e" d="M7,3 C18,2 23,15 15,18 C11,19.5 7,15 5,6.5"/>
<path class="e" d="M5.5,130.5 C14,140 12,151 2,151 C-8,151 -12,146 -3.5,131.5"/>
<path class="e" d="M143.5,136.5 C152,142 155,152 148,155 C141,158 135,151 137,138.5"/>
<text class="l" x="38.2" y="-61.7">2</text><text class="l" x="108.7" y="-60.7">4</text><text class="l" x="72.2" y="-143.3">3</text><text class="l" x="69.3" y="14.3">3</text><text class="l" x="-6.8" y="62.7">1</text><text class="l" x="68.2" y="60">1</text><text class="l" x="76" y="139.3">2</text><text class="l" x="152" y="2.3">1</text><text class="l" x="11.3" y="14">2</text><text class="l" x="0" y="142.7">4</text><text class="l" x="146.2" y="153.3">5</text><text class="l" x="141" y="-75">1,4</text><text class="l" x="-7.3" y="-113.3">1,4</text><text class="l" x="-15.8" y="-84.3">4,3</text><text class="l" x="-0.7" y="-61.7">2,2</text><text class="l" x="-61.5" y="70">1,2</text><text class="l" x="-29.5" y="65">4,1</text><text class="l" x="86.8" y="103.3">1,1</text><text class="l" x="60" y="156.7">4,2</text><text class="l" x="60" y="180.7">1,3</text>
</g>
<g id="g11-n3"><circle class="n" cx="65" cy="-128" r="7.5"/></g>
<g id="g11-n2"><circle class="n" cx="0" cy="0" r="7.5"/></g>
<g id="g11-n1"><circle class="n" cx="138" cy="0" r="7.5"/></g>
<g id="g11-n4"><circle class="n" cx="0" cy="125" r="7.5"/></g>
<g id="g11-n5"><circle class="n" cx="138" cy="131" r="7.5"/></g>
</g>

<!-- Transformation steps -->
<g id="steps">
<g id="step-p5"><path class="dl" d="M290,175 H320"/><path class="dli" d="M290,175 H320"/><path class="ah" d="M0,0 L-16,-7 L-11,0 L-16,7 Z" transform="translate(331,175)"/><text class="pl" x="297" y="198">p<tspan class="ps" dx="1">5</tspan></text></g>
<g id="step-p6"><path class="dl" d="M641,175 H671"/><path class="dli" d="M641,175 H671"/><path class="ah" d="M0,0 L-16,-7 L-11,0 L-16,7 Z" transform="translate(682,175)"/><text class="pl" x="648.5" y="198">p<tspan class="ps" dx="1">6</tspan></text></g>
<g id="step-p7"><path class="dl" d="M845,371 V401"/><path class="dli" d="M845,371 V401"/><path class="ah" d="M0,0 L-16,-7 L-11,0 L-16,7 Z" transform="translate(845,412) rotate(90)"/><text class="pl" x="854" y="395">p<tspan class="ps" dx="1">7</tspan></text></g>
<g id="step-p8"><path class="dl" d="M665,610 H693"/><path class="dli" d="M665,610 H693"/><path class="ah" d="M0,0 L-16,-7 L-11,0 L-16,7 Z" transform="translate(654,610) rotate(180)"/><text class="pl" x="659" y="632">p<tspan class="ps" dx="1">8</tspan></text></g>
<g id="step-p9"><path class="dl" d="M301,608 H330"/><path class="dli" d="M301,608 H330"/><path class="ah" d="M0,0 L-16,-7 L-11,0 L-16,7 Z" transform="translate(290,608) rotate(180)"/><text class="pl" x="295" y="630">p<tspan class="ps" dx="1">9</tspan></text></g>
<g id="step-p10"><path class="dl" d="M136,813 V844"/><path class="dli" d="M136,813 V844"/><path class="ah" d="M0,0 L-16,-7 L-11,0 L-16,7 Z" transform="translate(136,855) rotate(90)"/><text class="pl" x="144" y="837">p<tspan class="ps" dx="1">10</tspan></text></g>
<g id="step-p11"><path class="dl" d="M289,1048.5 H319"/><path class="dli" d="M289,1048.5 H319"/><path class="ah" d="M0,0 L-16,-7 L-11,0 L-16,7 Z" transform="translate(330,1048.5)"/><text class="pl" x="289.5" y="1071">p<tspan class="ps" dx="1">11</tspan></text></g>
<g id="step-p12"><path class="dl" d="M637,1046 H680"/><path class="dli" d="M637,1046 H680"/><path class="ah" d="M0,0 L-16,-7 L-11,0 L-16,7 Z" transform="translate(691,1046)"/><text class="pl" x="639" y="1069">p<tspan class="ps" dx="1">12</tspan></text></g>
<g id="step-p13"><path class="dl" d="M845,1238 V1268"/><path class="dli" d="M845,1238 V1268"/><path class="ah" d="M0,0 L-16,-7 L-11,0 L-16,7 Z" transform="translate(845,1279) rotate(90)"/><text class="pl" x="854" y="1262">p<tspan class="ps" dx="1">13</tspan></text></g>
<g id="step-p14"><path class="dl" d="M659,1475.5 H690"/><path class="dli" d="M659,1475.5 H690"/><path class="ah" d="M0,0 L-16,-7 L-11,0 L-16,7 Z" transform="translate(648,1475.5) rotate(180)"/><text class="pl" x="650" y="1497">p<tspan class="ps" dx="1">14</tspan></text></g>
</g>
</svg>
